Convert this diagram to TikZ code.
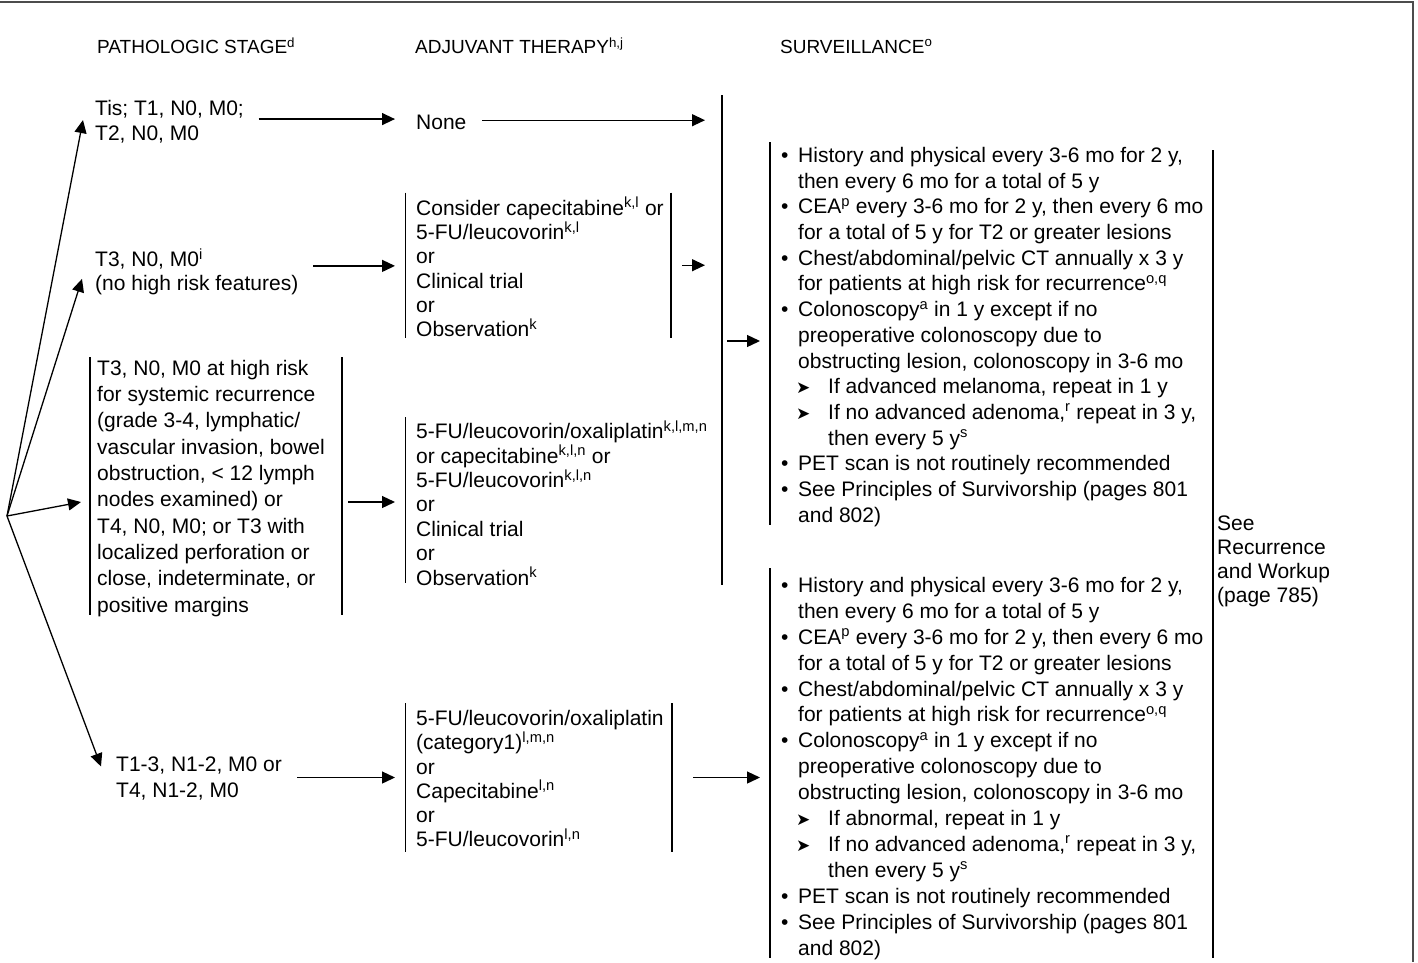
\documentclass[tikz,border=0pt]{standalone}
\usepackage{fontspec}
\setmainfont{Liberation Sans}
\newfontfamily\dejavu{DejaVu Sans}
\usetikzlibrary{arrows.meta,calc}
\newcommand\sps[1]{\textsuperscript{#1}}
\newcommand\bul{\makebox[17pt][l]{•}}
\newcommand\ind{\hspace*{17pt}}
\newcommand\subb{\hspace*{15pt}\makebox[32pt][l]{\dejavu\fontsize{17}{17}\selectfont ➤}}
\newcommand\subind{\hspace*{47pt}}
\newcommand\hdrfont{\fontsize{19}{22}\selectfont}
\tikzset{
  txt/.style={inner sep=0pt, anchor=north west, align=left,
    execute at begin node=\strut, execute at end node=\strut},
  arr/.style={line width=1.3pt, -{Triangle[length=13pt,width=12pt]}},
  brk/.style={line width=1.2pt},
  box/.style={inner sep=0pt, outer sep=0pt, anchor=north west, draw=none},
}
\begin{document}
\begin{tikzpicture}[x=1pt,y=-1pt]
\useasboundingbox (0,0) rectangle (1418,962);
\draw[line width=2pt, black!70] (0,1.5) -- (1413,1.5) -- (1413,962);

% headers
\node[txt, font=\hdrfont] (h1) at (97,37.5) {PATHOLOGIC STAGE\sps{d}};
\node[txt, font=\hdrfont] (h2) at (415,37.5) {ADJUVANT THERAPY\sps{h,j}};
\node[txt, font=\hdrfont] (h3) at (780,37.5) {SURVEILLANCE\sps{o}};

% pathologic stage
\node[txt, font=\fontsize{21}{25}\selectfont] (s1) at (95,100) {Tis; T1, N0, M0;\\T2, N0, M0};
\node[txt, font=\fontsize{21}{24}\selectfont] (s2) at (95,248.2) {T3, N0, M0\sps{i}\\(no high risk features)};
\node[txt, font=\fontsize{21}{26.3}\selectfont] (s3) at (97,359.9) {T3, N0, M0 at high risk\\for systemic recurrence\\(grade 3-4, lymphatic/\\vascular invasion, bowel\\obstruction, < 12 lymph\\nodes examined) or\\T4, N0, M0; or T3 with\\localized perforation or\\close, indeterminate, or\\positive margins};
\node[txt, font=\fontsize{21}{26}\selectfont] (s4) at (116,756.8) {T1-3, N1-2, M0 or\\T4, N1-2, M0};

% adjuvant therapy
\node[txt, font=\fontsize{21}{25.5}\selectfont] (none) at (416,111.65) {None};
\node[txt, font=\fontsize{21}{24.3}\selectfont] (t2) at (416,197) {Consider capecitabine\sps{k,l} or\\5-FU/leucovorin\sps{k,l}\\or\\Clinical trial\\or\\Observation\sps{k}};
\node[txt, font=\fontsize{21}{24.4}\selectfont] (t3) at (416,420.4) {5-FU/leucovorin/oxaliplatin\sps{k,l,m,n}\\or capecitabine\sps{k,l,n} or\\5-FU/leucovorin\sps{k,l,n}\\or\\Clinical trial\\or\\Observation\sps{k}};
\node[txt, font=\fontsize{21}{24.3}\selectfont] (t4) at (416,710) {5-FU/leucovorin/oxaliplatin\\(category1)\sps{l,m,n}\\or\\Capecitabine\sps{l,n}\\or\\5-FU/leucovorin\sps{l,n}};

% surveillance
\node[txt, font=\fontsize{21}{25.7}\selectfont] (v1) at (781,147) {\bul History and physical every 3-6 mo for 2 y,\\\ind then every 6 mo for a total of 5 y\\\bul CEA\sps{p} every 3-6 mo for 2 y, then every 6 mo\\\ind for a total of 5 y for T2 or greater lesions\\\bul Chest/abdominal/pelvic CT annually x 3 y\\\ind for patients at high risk for recurrence\sps{o,q}\\\bul Colonoscopy\sps{a} in 1 y except if no\\\ind preoperative colonoscopy due to\\\ind obstructing lesion, colonoscopy in 3-6 mo\\\subb If advanced melanoma, repeat in 1 y\\\subb If no advanced adenoma,\sps{r} repeat in 3 y,\\\subind then every 5 y\sps{s}\\\bul PET scan is not routinely recommended\\\bul See Principles of Survivorship (pages 801\\\ind and 802)};
\node[txt, font=\fontsize{21}{25.9}\selectfont] (v2) at (781,577) {\bul History and physical every 3-6 mo for 2 y,\\\ind then every 6 mo for a total of 5 y\\\bul CEA\sps{p} every 3-6 mo for 2 y, then every 6 mo\\\ind for a total of 5 y for T2 or greater lesions\\\bul Chest/abdominal/pelvic CT annually x 3 y\\\ind for patients at high risk for recurrence\sps{o,q}\\\bul Colonoscopy\sps{a} in 1 y except if no\\\ind preoperative colonoscopy due to\\\ind obstructing lesion, colonoscopy in 3-6 mo\\\subb If abnormal, repeat in 1 y\\\subb If no advanced adenoma,\sps{r} repeat in 3 y,\\\subind then every 5 y\sps{s}\\\bul PET scan is not routinely recommended\\\bul See Principles of Survivorship (pages 801\\\ind and 802)};
\node[txt, font=\fontsize{21}{24}\selectfont] (rec) at (1217,515.7) {See\\Recurrence\\and Workup\\(page 785)};

% bracket boxes
\node[box, minimum width=252pt, minimum height=258pt] (bs3) at (90,357) {};
\node[box, minimum width=265.3pt, minimum height=145pt] (bx2) at (405.7,192.7) {};
\node[box, minimum width=260pt, minimum height=166pt] (bx3) at (405.7,417) {};
\node[box, minimum width=266.3pt, minimum height=149pt] (bx4) at (405.7,703) {};
\node[box, minimum width=0pt, minimum height=490pt] (mg) at (722,95) {};
\node[box, minimum width=443pt, minimum height=383pt] (bv1) at (770,142) {};
\node[box, minimum width=443pt, minimum height=390pt] (bv2) at (770,568) {};
\node[box, minimum width=198pt, minimum height=808pt] (brec) at (1213,150) {};

\draw[brk] (bs3.north west) -- (bs3.south west) (bs3.north east) -- (bs3.south east);
\draw[brk] (bx2.north west) -- (bx2.south west) (bx2.north east) -- (bx2.south east);
\draw[brk] (bx3.north west) -- (bx3.south west);
\draw[brk] (bx4.north west) -- (bx4.south west) (bx4.north east) -- (bx4.south east);
\draw[brk] (mg.north) -- (mg.south);
\draw[brk] (bv1.north west) -- (bv1.south west);
\draw[brk] (bv2.north west) -- (bv2.south west);
\draw[brk] (brec.north west) -- (brec.south west);

% fan
\coordinate (O) at (7,516);
\draw[arr] (O) -- ($(s1.west)+(-12,-4)$);
\draw[arr] (O) -- ($(s2.west)+(-13,5.8)$);
\draw[arr] (O) -- ($(bs3.west)+(-9,16)$);
\draw[arr] (O) -- ($(s4.west)+(-15,-14.8)$);

% horizontal connectors
\draw[arr, shorten <=14.6pt, shorten >=21pt] ([yshift=5pt]s1.east) -- ([yshift=5pt]s1.east -| none.west);
\draw[arr, shorten <=15.8pt, shorten >=17pt] ([yshift=4.4pt]none.east) -- ([yshift=4.4pt]none.east -| mg.west);
\draw[arr, shorten <=15pt, shorten >=10.7pt] ([yshift=7.2pt]s2.east) -- ([yshift=7.2pt]s2.east -| bx2.west);
\draw[arr, shorten <=11pt, shorten >=17pt] (bx2.east) -- (bx2.east -| mg.west);
\draw[arr, shorten <=6pt, shorten >=10.7pt] ([yshift=-16pt]bs3.east) -- ([yshift=-16pt]bs3.east -| bx3.west);
\draw[arr, shorten <=5pt, shorten >=10pt] ([yshift=-7.5pt]bv1.west -| mg.east) -- ([yshift=-7.5pt]bv1.west);
\draw[arr, shorten <=15.3pt, shorten >=10.7pt] (bx4.west -| s4.east) -- (bx4.west);
\draw[arr, shorten <=21pt, shorten >=10pt] (bx4.east) -- (bx4.east -| bv2.west);
\end{tikzpicture}
\end{document}
